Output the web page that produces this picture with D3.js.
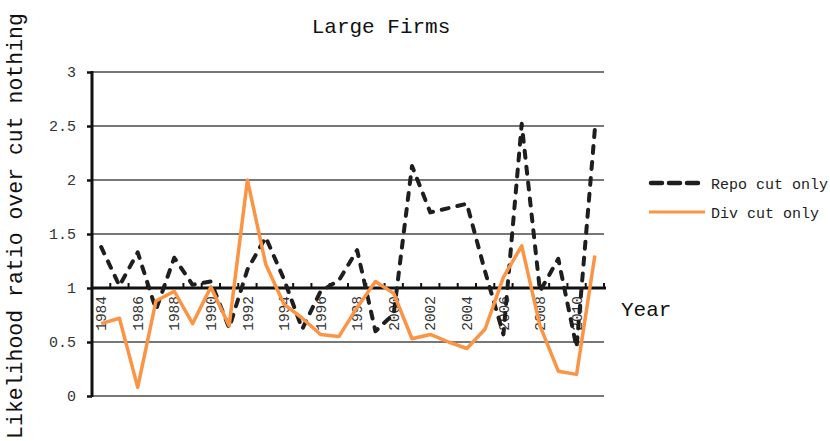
<!DOCTYPE html>
<html>
<head>
<meta charset="utf-8">
<script src="https://cdn.jsdelivr.net/npm/d3@7/dist/d3.min.js"></script>
<style>
  html, body { margin: 0; padding: 0; background: #fff; }
  svg { display: block; }
  text { font-family: "Liberation Mono", "DejaVu Sans Mono", monospace; }
</style>
</head>
<body>
<svg id="chart" width="830" height="441"></svg>
<script>
// Years on the category axis
const years = d3.range(1984, 2012);

// Likelihood ratio over "cut nothing", large firms
const repoCutOnly = [1.38, 1.02, 1.33, 0.80, 1.28, 1.03, 1.06, 0.63, 1.17, 1.47,
                     1.08, 0.62, 0.97, 1.07, 1.35, 0.60, 0.76, 2.13, 1.70, 1.74,
                     1.78, 1.15, 0.57, 2.52, 0.97, 1.27, 0.45, 2.47];
const divCutOnly  = [0.67, 0.72, 0.08, 0.88, 0.97, 0.67, 1.01, 0.65, 2.00, 1.22,
                     0.85, 0.72, 0.57, 0.55, 0.82, 1.06, 0.95, 0.53, 0.57, 0.50,
                     0.44, 0.62, 1.10, 1.39, 0.65, 0.23, 0.20, 1.30];

const yTicks = [0, 0.5, 1, 1.5, 2, 2.5, 3];
const seriesNames = ["Repo cut only", "Div cut only"];

const svg = d3.select("#chart");
const plotLeft = 92, plotRight = 604, plotTop = 72, plotBottom = 396;

const x = d3.scaleBand().domain(years).range([plotLeft, plotRight]).padding(0);
const y = d3.scaleLinear().domain([0, 3]).range([plotBottom, plotTop]);
const cx = d => x(d) + x.bandwidth() / 2;

// Title
svg.append("text")
  .attr("x", 381).attr("y", 33)
  .attr("text-anchor", "middle")
  .attr("font-size", 21)
  .attr("fill", "#111")
  .text("Large Firms");

// Y axis title
svg.append("text")
  .attr("transform", "translate(22,226) rotate(-90)")
  .attr("text-anchor", "middle")
  .attr("font-size", 21.5)
  .attr("fill", "#111")
  .text("Likelihood ratio over cut nothing");

// Horizontal gridlines
svg.append("g")
  .selectAll("line")
  .data(yTicks.filter(v => v !== 1))
  .join("line")
  .attr("x1", plotLeft).attr("x2", plotRight)
  .attr("y1", d => y(d)).attr("y2", d => y(d))
  .attr("stroke", "#4a4a4a")
  .attr("stroke-width", 1.5);

// Left axis
const yAxis = svg.append("g")
  .attr("transform", `translate(${plotLeft},0)`)
  .call(d3.axisLeft(y).tickValues(yTicks).tickSize(5).tickPadding(11)
    .tickFormat(d => String(d)));
yAxis.select(".domain").attr("stroke", "#111").attr("stroke-width", 3)
  .attr("d", `M0,${plotTop - 1}V${plotBottom + 1}`);
yAxis.selectAll(".tick line").attr("stroke", "#111").attr("stroke-width", 2.5);
yAxis.selectAll(".tick text")
  .attr("font-size", 15)
  .attr("fill", "#333")
  .style("font-family", '"Liberation Mono", "DejaVu Sans Mono", monospace');

// Category axis crossing at 1
const y1 = y(1);
const xAxis = svg.append("g").attr("class", "x-axis");

// Year labels (every second year), rotated
xAxis.selectAll("text")
  .data(years.filter(d => d % 2 === 0))
  .join("text")
  .attr("transform", d => `translate(${cx(d)},${y1 + 8}) rotate(-90)`)
  .attr("text-anchor", "end")
  .attr("dy", "0.35em")
  .attr("font-size", 14.5)
  .attr("fill", "#333")
  .text(d => d);

// Axis line
xAxis.append("line")
  .attr("x1", plotLeft).attr("x2", plotRight + 2)
  .attr("y1", y1).attr("y2", y1)
  .attr("stroke", "#111").attr("stroke-width", 3);

// Tick marks at category boundaries
const bounds = years.map(d => x(d)).concat([x.range()[1]]);
xAxis.selectAll("line.tick")
  .data(bounds)
  .join("line")
  .attr("class", "tick")
  .attr("x1", d => d).attr("x2", d => d)
  .attr("y1", y1 - 5).attr("y2", y1)
  .attr("stroke", "#111").attr("stroke-width", 2);

// X axis title
svg.append("text")
  .attr("x", 621).attr("y", 316)
  .attr("font-size", 21)
  .attr("fill", "#111")
  .text("Year");

// Series lines
const line = d3.line()
  .x((d, i) => cx(years[i]))
  .y(d => y(d));

svg.append("path")
  .datum(repoCutOnly)
  .attr("d", line)
  .attr("fill", "none")
  .attr("stroke", "#1e1e1e")
  .attr("stroke-width", 4)
  .attr("stroke-dasharray", "7,9")
  .attr("stroke-linecap", "round")
  .attr("stroke-linejoin", "round");

svg.append("path")
  .datum(divCutOnly)
  .attr("d", line)
  .attr("fill", "none")
  .attr("stroke", "#fb9444")
  .attr("stroke-width", 3.5)
  .attr("stroke-linejoin", "round");

// Legend
const legend = svg.append("g");
legend.append("line")
  .attr("x1", 651).attr("x2", 700).attr("y1", 183).attr("y2", 183)
  .attr("stroke", "#1e1e1e").attr("stroke-width", 4.5)
  .attr("stroke-dasharray", "11,7").attr("stroke-linecap", "round");
legend.append("line")
  .attr("x1", 649).attr("x2", 705).attr("y1", 212).attr("y2", 212)
  .attr("stroke", "#fb9444").attr("stroke-width", 3);
legend.selectAll("text")
  .data(seriesNames)
  .join("text")
  .attr("x", 711)
  .attr("y", (d, i) => 189 + i * 29)
  .attr("font-size", 15)
  .attr("fill", "#222")
  .text(d => d);
</script>
</body>
</html>
